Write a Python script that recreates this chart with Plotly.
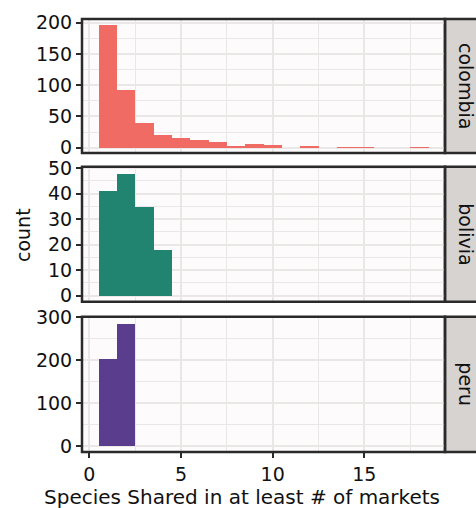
import plotly.graph_objects as go
from plotly.subplots import make_subplots

# ---- data ----
bins = list(range(1, 19))
colombia = [197, 92, 39, 21, 15, 12, 9, 3, 6, 4, 0, 3, 0, 1, 1, 0, 0, 1]
bolivia_bins = [1, 2, 3, 4]
bolivia = [41, 48, 35, 18]
peru_bins = [1, 2]
peru = [203, 284]

panels = ["colombia", "bolivia", "peru"]
colors = ["#EF6B63", "#218470", "#5B3D8D"]
x_ticks = [0, 5, 10, 15]
y_ticks = [[0, 50, 100, 150, 200], [0, 10, 20, 30, 40, 50], [0, 100, 200, 300]]
y_minor = [25, 5, 50]
x_title = "Species Shared in at least # of markets"
y_title = "count"

W, H = 476, 508
FONT = "DejaVu Sans"


def fx(p):
    return p / W


def fy(p):
    return 1 - p / H


px_l, px_r = 82, 445
rows_px = [(19, 153), (166.7, 301.7), (316.7, 452)]
y_ranges = [[-8.5, 206], [-2.4, 50.6], [-14.2, 300.8]]

fig = make_subplots(rows=3, cols=1, shared_xaxes=True)
data = [(bins, colombia), (bolivia_bins, bolivia), (peru_bins, peru)]
for i, ((xs, ys), c) in enumerate(zip(data, colors)):
    fig.add_trace(go.Bar(x=xs, y=ys, width=1, marker=dict(color=c, line=dict(width=0)),
                         showlegend=False), row=i + 1, col=1)

grid = "#ebe7e7"
xd = [fx(px_l), fx(px_r)]
for i in range(3):
    top, bot = rows_px[i]
    yd = [fy(bot), fy(top)]
    n = "" if i == 0 else str(i + 1)
    fig.layout["xaxis" + n].update(
        domain=xd, range=[-0.4, 19.4], tickvals=x_ticks, showgrid=True, automargin=False,
        gridcolor=grid, gridwidth=2, zeroline=False, showline=False,
        minor=dict(dtick=2.5, tick0=0, showgrid=True, gridcolor=grid, gridwidth=1, ticks=""),
        ticks="outside" if i == 2 else "", ticklen=5, tickwidth=2, tickcolor="#2a2a2a",
        showticklabels=(i == 2), tickfont=dict(family=FONT, size=19, color="#111"),
    )
    fig.layout["yaxis" + n].update(
        domain=yd, range=y_ranges[i], tickvals=y_ticks[i], showgrid=True, automargin=False,
        gridcolor=grid, gridwidth=2, zeroline=False, showline=False,
        minor=dict(dtick=y_minor[i], tick0=0, showgrid=True, gridcolor=grid, gridwidth=1, ticks=""),
        ticks="outside", ticklen=5, tickwidth=2, tickcolor="#2a2a2a",
        tickfont=dict(family=FONT, size=19, color="#111"),
    )
    # strip
    fig.add_shape(type="rect", xref="paper", yref="paper", x0=xd[1], x1=1.05,
                  y0=yd[0], y1=yd[1], fillcolor="#d7d3d1", line=dict(color="#2a2a2a", width=2.5),
                  layer="below")
    # panel border
    fig.add_shape(type="rect", xref="paper", yref="paper", x0=xd[0], x1=xd[1],
                  y0=yd[0], y1=yd[1], line=dict(color="#2a2a2a", width=2.5),
                  fillcolor="rgba(0,0,0,0)", layer="above")
    fig.add_annotation(xref="paper", yref="paper", x=fx(466), y=(yd[0] + yd[1]) / 2,
                       text=panels[i], textangle=90, showarrow=False,
                       xanchor="center", yanchor="middle",
                       font=dict(family=FONT, size=19, color="#111"))

fig.add_annotation(xref="paper", yref="paper", x=fx(242), y=fy(497), text=x_title,
                   showarrow=False, xanchor="center", yanchor="middle",
                   font=dict(family=FONT, size=20, color="#111"))
fig.add_annotation(xref="paper", yref="paper", x=fx(23), y=fy(235), text=y_title,
                   textangle=-90, showarrow=False, xanchor="center", yanchor="middle",
                   font=dict(family=FONT, size=19, color="#111"))

fig.update_layout(width=W, height=H, margin=dict(l=0, r=0, t=0, b=0, autoexpand=False),
                  paper_bgcolor="white", plot_bgcolor="#fdfbfb", bargap=0)
fig.write_html("out.html", config={"displayModeBar": False},
               post_script="document.body.style.margin='0px';document.body.style.overflow='hidden';")
